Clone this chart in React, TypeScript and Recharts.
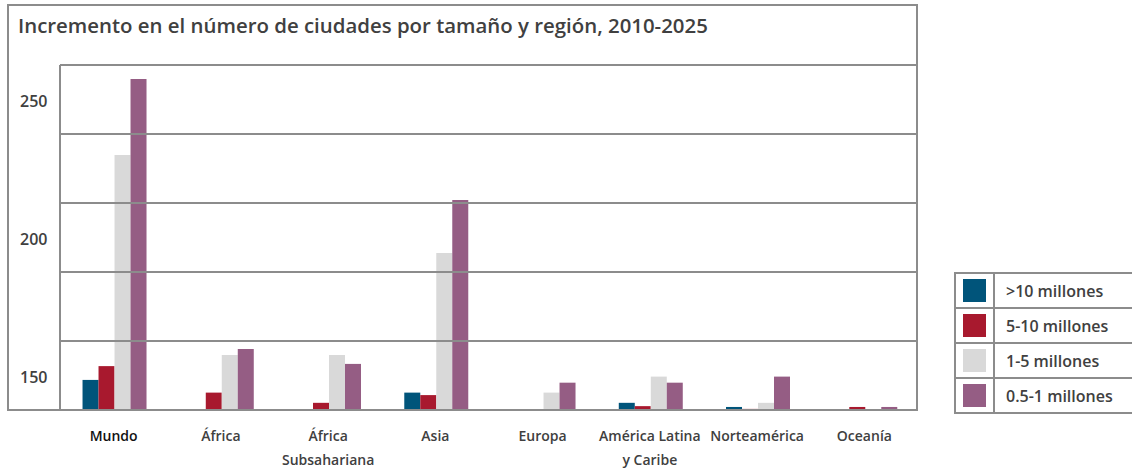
import { BarChart, Bar, XAxis, YAxis, ReferenceLine } from 'recharts';

const CATEGORIES = ['Mundo', 'África', 'África\nSubsahariana', 'Asia', 'Europa', 'América Latina\ny Caribe', 'Norteamérica', 'Oceanía'];
const MAS_10 = [148.9, null, null, 144.3, null, 140.6, 139.1, null];
const DE_5_10 = [153.9, 144.3, 140.6, 143.4, null, 139.4, 138.4, 139.1];
const DE_1_5 = [230.4, 157.9, 157.9, 194.9, 144.3, 150.1, 140.6, null];
const DE_05_1 = [257.9, 160.1, 154.7, 214.1, 147.9, 147.9, 150.1, 139.1];
const Y_TICKS = [150, 200, 250];
const GRID_VALUES = [163, 188, 213, 238, 263];

const SERIES = [
  { key: 'a', name: '>10 millones', color: '#00547a', values: MAS_10 },
  { key: 'b', name: '5-10 millones', color: '#a8192e', values: DE_5_10 },
  { key: 'c', name: '1-5 millones', color: '#d9d9d9', values: DE_1_5 },
  { key: 'd', name: '0.5-1 millones', color: '#955d84', values: DE_05_1 },
];

const data = CATEGORIES.map((c, i) => {
  const row: Record<string, string | number | null> = { name: c };
  SERIES.forEach((s) => (row[s.key] = s.values[i]));
  return row;
});

const FONT = '"Open Sans", sans-serif';
const TEXT = '#404040';
const LINE = '#8c8c8c';

const XTick = ({ x, y, payload }: any) => {
  const lines = String(payload.value).split('\n');
  return (
    <text x={x} y={y + 23} textAnchor="middle" fontFamily={FONT} fontSize={14} fontWeight={600}
      fill={payload.value === 'Mundo' ? '#111' : TEXT}>
      {lines.map((l, i) => (
        <tspan key={i} x={x} dy={i === 0 ? 0 : 24}>{l}</tspan>
      ))}
    </text>
  );
};

const YTick = ({ y, payload }: any) => (
  <text x={20} y={y + 6} fontFamily={FONT} fontSize={16} fontWeight={600} fill={TEXT}>
    {payload.value}
  </text>
);

export default function App() {
  return (
    <div style={{ position: 'absolute', left: 0, top: 0, width: 1132, height: 473, background: '#fff', fontFamily: FONT }}>
      <div style={{ position: 'absolute', left: 7, top: 4, width: 911, height: 407, border: `2px solid ${LINE}`, boxSizing: 'border-box' }} />
      <div style={{ position: 'absolute', left: 18, top: 11, fontSize: 20.4, fontWeight: 600, color: TEXT, whiteSpace: 'nowrap' }}>
        Incremento en el número de ciudades por tamaño y región, 2010-2025
      </div>
      <div style={{ position: 'absolute', left: 0, top: 0 }}>
        <BarChart width={1132} height={473} data={data} margin={{ top: 65, right: 214, bottom: 0, left: 8 }}
          barCategoryGap="21%" barGap={0}>
          <XAxis dataKey="name" tick={<XTick />} tickLine={false} axisLine={{ stroke: LINE, strokeWidth: 2 }} interval={0} height={63} />
          <YAxis type="number" domain={[138, 263]} ticks={Y_TICKS} allowDataOverflow width={52}
            tick={<YTick />} tickLine={false} axisLine={{ stroke: LINE, strokeWidth: 2 }} />
          {GRID_VALUES.map((v) => (
            <ReferenceLine key={v} y={v} stroke={LINE} strokeWidth={2} />
          ))}
          {SERIES.map((s) => (
            <Bar key={s.key} dataKey={s.key} name={s.name} fill={s.color} isAnimationActive={false} />
          ))}
        </BarChart>
      </div>
      <table style={{ position: 'absolute', left: 954, top: 272, borderCollapse: 'collapse', width: 200 }}>
        <tbody>
          {SERIES.map((s) => (
            <tr key={s.key} style={{ height: 35 }}>
              <td style={{ width: 37, border: `2px solid ${LINE}`, padding: 0 }}>
                <div style={{ width: 23, height: 23, background: s.color, margin: '0 auto' }} />
              </td>
              <td style={{ border: `2px solid ${LINE}`, padding: '0 0 0 11px', fontSize: 16, fontWeight: 600, color: TEXT, whiteSpace: 'nowrap' }}>
                {s.name}
              </td>
            </tr>
          ))}
        </tbody>
      </table>
    </div>
  );
}
